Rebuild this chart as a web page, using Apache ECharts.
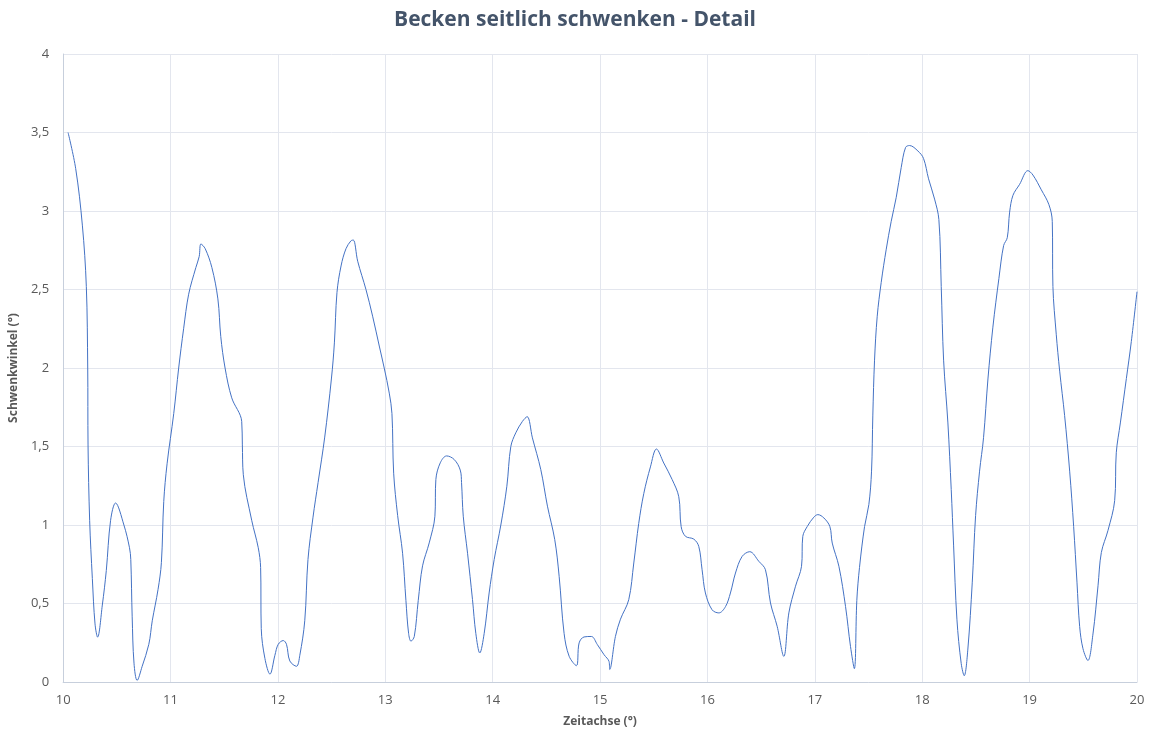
<!DOCTYPE html>
<html>
<head>
<meta charset="utf-8">
<script src="https://cdn.jsdelivr.net/npm/echarts@6/dist/echarts.min.js"></script>
<style>html,body{margin:0;padding:0;background:#fff}#c{width:1150px;height:733px}</style>
</head>
<body>
<div id="c"></div>
<script>
const titleText = 'Becken seitlich schwenken - Detail';
const xAxisName = 'Zeitachse (°)';
const yAxisName = 'Schwenkwinkel (°)';
const xTicks = [10, 11, 12, 13, 14, 15, 16, 17, 18, 19, 20];
const yTicks = [0, 0.5, 1, 1.5, 2, 2.5, 3, 3.5, 4];

const timeValues = [
10.046,10.117,10.179,10.216,10.229,10.232,10.247,10.272,10.297,10.321,10.365,10.402,10.442,10.488,10.566,10.618,10.63,10.643,10.66,10.689,
10.736,10.798,10.83,10.884,10.915,10.937,10.968,11.03,11.076,11.122,11.169,11.236,11.267,11.283,11.323,11.385,11.441,11.468,11.508,11.57,
11.663,11.669,11.678,11.756,11.817,11.839,11.845,11.879,11.926,11.972,12.003,12.05,12.08,12.111,12.173,12.204,12.25,12.28,12.327,12.374,
12.436,12.498,12.526,12.55,12.588,12.634,12.68,12.702,12.743,12.82,12.882,12.944,12.99,13.037,13.062,13.078,13.115,13.161,13.192,13.217,
13.239,13.27,13.307,13.347,13.409,13.462,13.471,13.512,13.571,13.642,13.698,13.71,13.726,13.766,13.812,13.843,13.88,13.921,13.967,14.014,
14.076,14.132,14.169,14.215,14.277,14.321,14.37,14.448,14.51,14.578,14.619,14.665,14.712,14.78,14.805,14.851,14.919,14.975,15.037,15.084,
15.09,15.143,15.19,15.267,15.314,15.36,15.407,15.469,15.525,15.593,15.671,15.733,15.755,15.795,15.873,15.919,15.95,15.981,16.043,16.106,
16.168,16.214,16.261,16.323,16.394,16.478,16.54,16.587,16.649,16.711,16.758,16.82,16.876,16.888,16.929,16.991,17.028,17.084,17.14,17.162,
17.224,17.286,17.332,17.368,17.391,17.416,17.463,17.503,17.528,17.54,17.556,17.581,17.618,17.665,17.711,17.758,17.804,17.845,17.882,17.96,
18.012,18.059,18.115,18.155,18.177,18.199,18.239,18.27,18.292,18.323,18.363,18.391,18.425,18.466,18.497,18.534,18.571,18.612,18.658,18.714,
18.758,18.792,18.814,18.845,18.907,18.984,19.031,19.109,19.18,19.211,19.217,19.248,19.28,19.326,19.373,19.41,19.441,19.466,19.497,19.543,
19.59,19.637,19.668,19.73,19.792,19.807,19.845,19.901,19.947,20.0
];
const angleValues = [
3.5,3.27,2.91,2.52,2.0,1.51,1.03,0.66,0.37,0.286,0.49,0.71,1.03,1.14,1.0,0.855,0.78,0.415,0.12,0.01,
0.1,0.24,0.39,0.59,0.76,1.15,1.39,1.71,2.0,2.25,2.47,2.64,2.71,2.79,2.76,2.64,2.44,2.2,2.0,1.81,
1.66,1.51,1.32,1.03,0.855,0.73,0.34,0.15,0.05,0.17,0.24,0.264,0.24,0.134,0.10,0.17,0.39,0.78,1.05,1.27,
1.56,1.93,2.16,2.48,2.65,2.76,2.81,2.815,2.68,2.5,2.33,2.14,2.0,1.84,1.71,1.33,1.06,0.82,0.52,0.31,
0.26,0.29,0.52,0.74,0.886,1.056,1.29,1.396,1.44,1.417,1.35,1.27,1.056,0.82,0.525,0.31,0.185,0.31,0.567,0.78,
1.0,1.247,1.5,1.587,1.66,1.69,1.555,1.353,1.12,0.907,0.673,0.31,0.164,0.104,0.249,0.287,0.29,0.238,0.174,0.13,
0.08,0.29,0.40,0.524,0.758,1.01,1.20,1.37,1.484,1.395,1.29,1.18,0.99,0.928,0.91,0.864,0.715,0.567,0.46,0.44,
0.48,0.567,0.694,0.80,0.83,0.769,0.715,0.503,0.355,0.163,0.44,0.61,0.737,0.928,0.99,1.05,1.066,1.045,0.99,0.885,
0.737,0.48,0.227,0.085,0.52,0.73,0.99,1.13,1.343,1.70,2.05,2.33,2.545,2.757,2.934,3.087,3.276,3.405,3.417,3.382,
3.335,3.205,3.076,2.946,2.52,2.05,1.65,1.226,0.872,0.40,0.118,0.04,0.21,0.636,1.06,1.343,1.556,1.93,2.26,2.57,
2.78,2.83,2.993,3.1,3.17,3.257,3.229,3.135,3.04,2.934,2.52,2.215,1.98,1.697,1.343,0.99,0.636,0.354,0.212,0.137,
0.306,0.613,0.825,0.966,1.155,1.46,1.65,1.933,2.168,2.486
];

const seriesData = timeValues.map((t, i) => [t, angleValues[i]]);
const chart = echarts.init(document.getElementById('c'));
const labelColor = '#595959';
chart.setOption({
  animation: false,
  title: {
    text: titleText, left: 'center', top: 5,
    textStyle: { fontFamily: 'Open Sans', fontWeight: 'bold', fontSize: 21, color: '#44546A' }
  },
  grid: { left: 61, right: 13, top: 54, bottom: 51, containLabel: false },
  xAxis: {
    type: 'value', min: xTicks[0], max: xTicks[xTicks.length - 1], interval: 1,
    name: xAxisName, nameLocation: 'middle', nameGap: 34,
    nameTextStyle: { fontFamily: 'Open Sans', fontWeight: 'bold', fontSize: 12, color: labelColor },
    axisLine: { lineStyle: { color: '#c7cfdc', width: 1 } },
    axisTick: { show: false },
    axisLabel: { color: labelColor, fontSize: 13, fontFamily: 'Open Sans', margin: 12 },
    splitLine: { show: true, lineStyle: { color: '#e3e6ee', width: 1 } }
  },
  yAxis: {
    type: 'value', min: yTicks[0], max: yTicks[yTicks.length - 1], interval: 0.5,
    name: yAxisName, nameLocation: 'middle', nameGap: 39, nameRotate: 90,
    nameTextStyle: { fontFamily: 'Open Sans', fontWeight: 'bold', fontSize: 12, color: labelColor },
    axisLine: { show: true, lineStyle: { color: '#c7cfdc', width: 1 } },
    axisTick: { show: false },
    axisLabel: { color: labelColor, fontSize: 13, fontFamily: 'Open Sans', margin: 14,
      formatter: v => String(v).replace('.', ',') },
    splitLine: { show: true, lineStyle: { color: '#e3e6ee', width: 1 } }
  },
  series: [{
    type: 'line', data: seriesData, smooth: 0.35, showSymbol: false, symbol: 'none',
    lineStyle: { color: '#4472C4', width: 1 }
  }]
});
</script>
</body>
</html>
